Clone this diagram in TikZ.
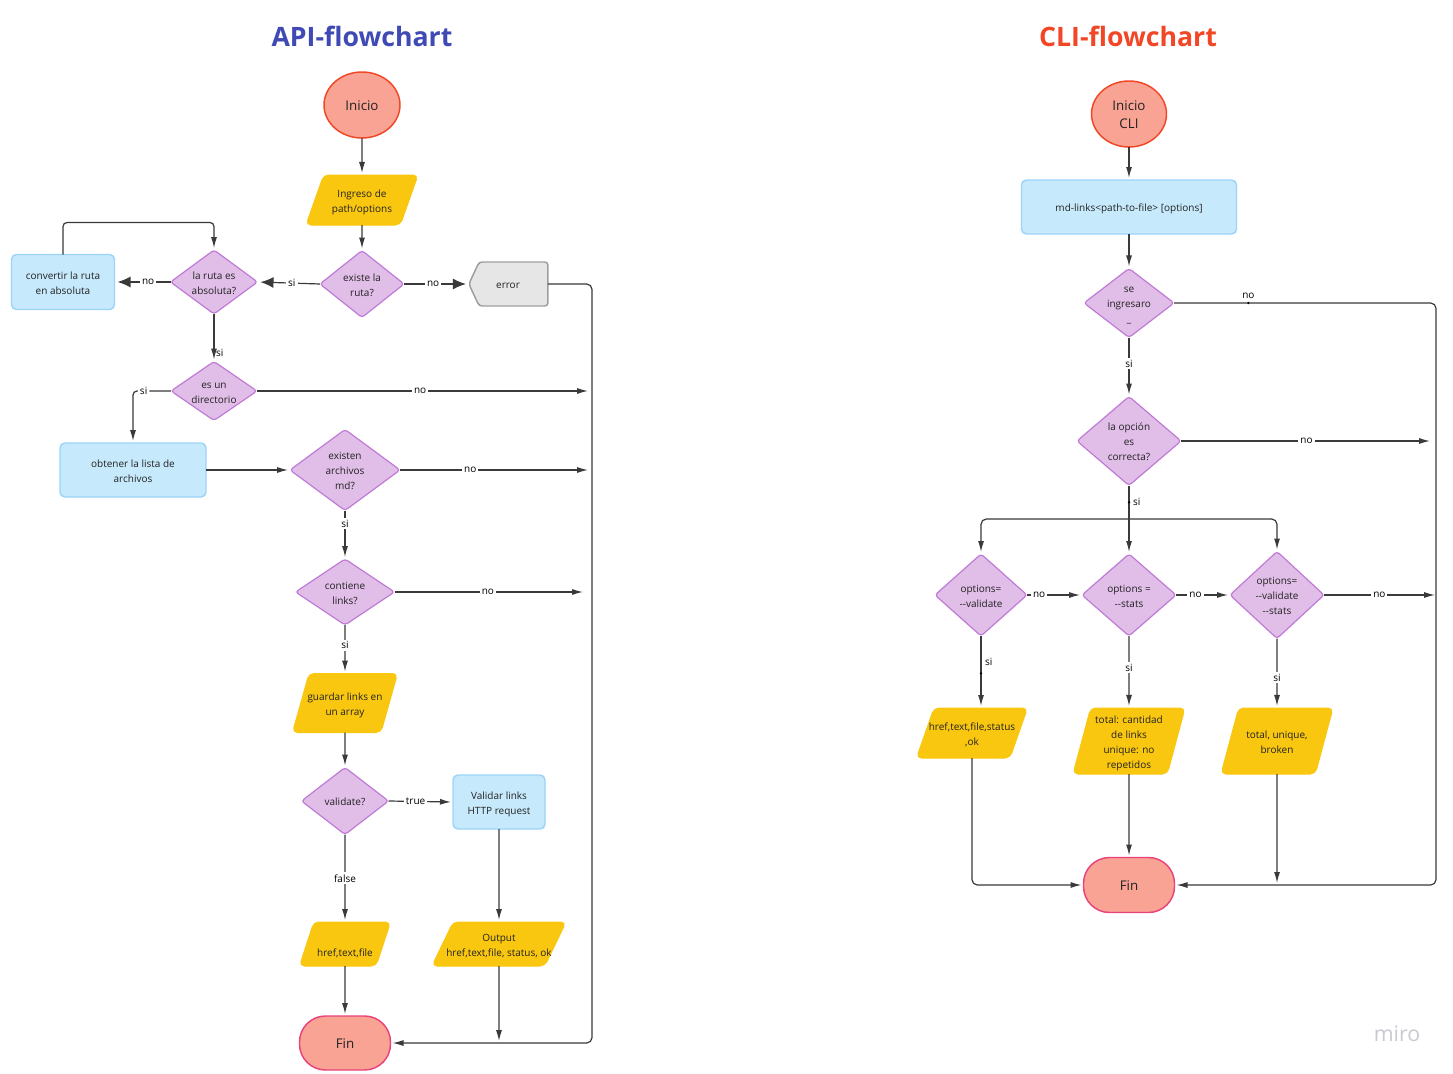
\documentclass[tikz,border=0pt]{standalone}
\usepackage{fontspec}
\setmainfont{Open Sans}
\usetikzlibrary{shapes.geometric,shapes.symbols,arrows.meta}
\newdimen\PX \PX=0.75pt
\definecolor{apiblue}{HTML}{3F4AB4}
\definecolor{clired}{HTML}{F24726}
\definecolor{sfill}{HTML}{F8A393}
\definecolor{rstroke}{HTML}{F24726}
\definecolor{pstroke}{HTML}{E8437B}
\definecolor{yfill}{HTML}{FAC710}
\definecolor{dfill}{HTML}{E1BEE8}
\definecolor{dstroke}{HTML}{C07AD6}
\definecolor{bfill}{HTML}{C7E9FC}
\definecolor{bstroke}{HTML}{9CD4F8}
\definecolor{gfill}{HTML}{E6E6E6}
\definecolor{gstroke}{HTML}{9E9E9E}
\definecolor{txt}{HTML}{222222}
\definecolor{lc}{HTML}{3A3A3A}
\definecolor{mirogray}{HTML}{C9C9D3}
\newcommand\fs{\fontsize{7.5}{11.25}\selectfont}
\newcommand\fb{\fontsize{10}{13.5}\selectfont}
\newcommand\tl[1]{\makebox[2pt]{\raisebox{-0.4em}[1pt][1pt]{\begin{tabular}{@{}c@{}}#1\end{tabular}}}}
\tikzset{
  base/.style={inner sep=0pt, outer sep=0pt, text=txt, font=\fs},
  dec/.style={base, diamond, draw=dstroke, fill=dfill, line width=0.9pt, rounded corners=2.25pt},
  proc/.style={base, rectangle, draw=bstroke, fill=bfill, line width=1.1pt, rounded corners=3.75pt},
  io/.style={base, trapezium, trapezium left angle=77, trapezium right angle=103,
     trapezium stretches=true, fill=yfill, draw=yfill, line width=0.75pt, rounded corners=3.75pt},
  start/.style={base, ellipse, fill=sfill, draw=rstroke, line width=1.1pt, font=\fb},
  finbox/.style={base, rectangle, rounded corners=19.5pt, fill=sfill, draw=pstroke, line width=1.1pt, font=\fb},
  errbox/.style={base, signal, signal to=west, signal pointer angle=130, fill=gfill, draw=gstroke,
     line width=1.1pt, rounded corners=2.25pt},
  titlebox/.style={inner sep=0pt, font=\fontsize{20}{24}\selectfont\bfseries},
  conn/.style={draw=lc, line width=0.9pt, -{Latex[length=8.25pt,width=4.5pt]}, shorten >=1.5pt},
  bigconn/.style={draw=lc, line width=0.9pt, -{Latex[length=9.75pt,width=8.25pt]}, shorten >=2.25pt},
  plain/.style={draw=lc, line width=0.9pt},
  lbl/.style={fill=white, inner sep=1.5pt, font=\fs, text=black},
  sidelbl/.style={inner sep=1.1pt, font=\fs, text=black},
  dotnode/.style={circle, fill=black, inner sep=0pt, minimum size=1.9pt},
  miro/.style={inner sep=0pt, font=\fontsize{16}{16}\selectfont, text=mirogray}
}
\begin{document}
\begin{tikzpicture}[x=0.75pt,y=-0.75pt]
\useasboundingbox[fill=white] (0,0) rectangle (1453,1074);

% ---------------- API flowchart ----------------
\node[titlebox, text=apiblue] (t1) at (362,36) {API-flowchart};
\node[start, minimum width=76\PX, minimum height=66\PX] (ini) at (362,105) {\tl{Inicio}};
\node[io, minimum width=112\PX, minimum height=50\PX] (ing) at (362,200) {\tl{Ingreso de\\path/options}};
\node[dec, minimum width=84\PX, minimum height=67\PX] (ex) at (362,284) {\tl{existe la\\ruta?}};
\node[errbox, minimum width=79\PX, minimum height=44\PX] (err) at (513.5,284) {\tl{\hspace*{-11\PX}error}};
\node[dec, minimum width=87\PX, minimum height=64\PX] (abs) at (214,282) {\tl{la ruta es\\absoluta?}};
\node[proc, minimum width=103\PX, minimum height=55\PX] (conv) at (63,282) {\tl{convertir la ruta\\en absoluta}};
\node[dec, minimum width=86\PX, minimum height=59\PX] (dir) at (214,391) {\tl{es un\\directorio}};
\node[proc, minimum width=146\PX, minimum height=54\PX] (obt) at (133,470) {\tl{obtener la lista de\\archivos}};
\node[dec, minimum width=110\PX, minimum height=81\PX] (md) at (345,470) {\tl{existen\\archivos\\md?}};
\node[dec, minimum width=99\PX, minimum height=66\PX] (cont) at (345,592) {\tl{contiene\\links?}};
\node[io, minimum width=105\PX, minimum height=59\PX] (guar) at (345,703) {\tl{guardar links en\\un array}};
\node[dec, minimum width=87\PX, minimum height=67\PX] (val) at (345,801) {\tl{validate?}};
\node[proc, minimum width=92\PX, minimum height=54\PX] (http) at (499,802) {\tl{Validar links\\HTTP request}};
\node[io, minimum width=91\PX, minimum height=44\PX] (h1) at (345,944) {\tl{\\href,text,file}};
\node[io, minimum width=134\PX, minimum height=44\PX] (outp) at (499,944) {\tl{Output\\href,text,file, status, ok}};
\node[finbox, minimum width=91\PX, minimum height=54\PX] (fin1) at (345,1043) {\tl{Fin}};

\coordinate (e1) at (590,391);
\coordinate (e2) at (590,470);
\coordinate (e3) at (585,592);
\coordinate (j1) at (499,1043);
\coordinate (rc1) at (592,1043);

\draw[conn] (ini) -- (ing);
\draw[conn] (ing) -- (ex);
\draw[bigconn] (ex.west) -- node[lbl, pos=0.45] {si} (abs.east);
\draw[bigconn] (ex.east) -- node[lbl, pos=0.45] {no} (err.west);
\draw[bigconn] (abs.west) -- node[lbl, pos=0.4] {no} (conv.east);
\draw[conn, rounded corners=3pt] (conv.north) -- ++(0,-32) -| (abs.north);
\draw[conn] (abs.south) -- node[sidelbl, anchor=west, pos=0.82] {si} (dir.north);
\draw[conn, rounded corners=3pt] (dir.west) -| node[lbl, pos=0.36] {si} (obt.north);
\draw[conn] (dir.east) -- node[lbl, pos=0.49] {no} (e1);
\draw[conn] (obt.east) -- (md.west);
\draw[conn] (md.east) -- node[lbl, pos=0.37] {no} (e2);
\draw[conn] (md.south) -- node[lbl, pos=0.27] {si} (cont.north);
\draw[conn] (cont.east) -- node[lbl, pos=0.49] {no} (e3);
\draw[conn] (cont.south) -- node[lbl, pos=0.42] {si} (guar.north);
\draw[conn] (guar.south) -- (val.north);
\draw[conn] (val.east) -- node[lbl, pos=0.42] {true} (http.west);
\draw[conn] (val.south) -- node[lbl, pos=0.5] {false} (h1.north);
\draw[conn] (http.south) -- (outp.north);
\draw[conn] (h1.south) -- (fin1.north);
\draw[conn] (outp.south) -- (j1);
\draw[conn, rounded corners=4pt] (err.east) -| (rc1) -- (fin1.east);

% ---------------- CLI flowchart ----------------
\node[titlebox, text=clired] (t2) at (1128,36) {CLI-flowchart};
\node[start, minimum width=75\PX, minimum height=66\PX] (ini2) at (1129,114) {\tl{Inicio\\CLI}};
\node[proc, minimum width=215\PX, minimum height=54\PX] (cmd) at (1129,207) {\tl{md-links<path-to-file> [options]}};
\node[dec, minimum width=90\PX, minimum height=69\PX] (ing2) at (1129,303) {\tl{se\\ingresaro\\\_}};
\node[dec, minimum width=104\PX, minimum height=89\PX] (opc) at (1129,441) {\tl{la opción\\es\\correcta?}};
\node[dec, minimum width=92\PX, minimum height=82\PX] (o1) at (981,595) {\tl{options=\\-{}-validate}};
\node[dec, minimum width=94\PX, minimum height=82\PX] (o2) at (1129,595) {\tl{options =\\-{}-stats}};
\node[dec, minimum width=94\PX, minimum height=87\PX] (o3) at (1277,595) {\tl{options=\\-{}-validate\\-{}-stats}};
\node[io, minimum width=111\PX, minimum height=50\PX] (r1) at (972,733) {\tl{href,text,file,status\\,ok}};
\node[io, minimum width=112\PX, minimum height=66\PX] (r2) at (1129,741) {\tl{total: cantidad\\de links\\unique: no\\repetidos}};
\node[io, minimum width=112\PX, minimum height=66\PX] (r3) at (1277,741) {\tl{total, unique,\\broken}};
\node[finbox, minimum width=91\PX, minimum height=55\PX] (fin2) at (1129,885) {\tl{Fin}};

\coordinate (br) at (1129,519);
\coordinate (e4) at (1432,441);
\coordinate (e5) at (1437,595);
\coordinate (rc2) at (1436,885);
\coordinate (j2) at (1277,885);

\draw[conn] (ini2) -- (cmd);
\draw[conn] (cmd) -- (ing2);
\draw[conn] (ing2.south) -- node[lbl, pos=0.44] {si} (opc.north);
\draw[conn, rounded corners=4pt] (ing2.east) -| node[dotnode, pos=0.142] (d1) {} node[sidelbl, anchor=south, pos=0.142, yshift=2pt] {no} (rc2) -- (fin2.east);
\draw[conn] (opc.east) -- node[lbl, pos=0.5] {no} (e4);
\draw[plain] (opc.south) -- node[dotnode, pos=0.5] (d2) {} node[sidelbl, anchor=west, pos=0.5, xshift=1.5pt] {si} (br);
\draw[conn, rounded corners=4pt] (br) -| (o1.north);
\draw[conn] (br) -- (o2.north);
\draw[conn, rounded corners=4pt] (br) -| (o3.north);
\draw[conn] (o1.east) -- node[lbl, pos=0.22] {no} (o2.west);
\draw[conn] (o2.east) -- node[lbl, pos=0.36] {no} (o3.west);
\draw[conn] (o3.east) -- node[lbl, pos=0.49] {no} (e5);
\draw[conn] (o1.south) -- node[sidelbl, anchor=west, pos=0.36, xshift=1.5pt] {si} node[dotnode, pos=0.52] (d3) {} (o1.south |- r1.north);
\draw[conn] (o2.south) -- node[lbl, pos=0.44] {si} (r2.north);
\draw[conn] (o3.south) -- node[lbl, pos=0.56] {si} (r3.north);
\draw[conn, rounded corners=4pt] (r1.south) |- (fin2.west);
\draw[conn] (r2.south) -- (fin2.north);
\draw[conn] (r3.south) -- (j2);

\node[miro] (logo) at (1397,1034) {miro};
\end{tikzpicture}
\end{document}
